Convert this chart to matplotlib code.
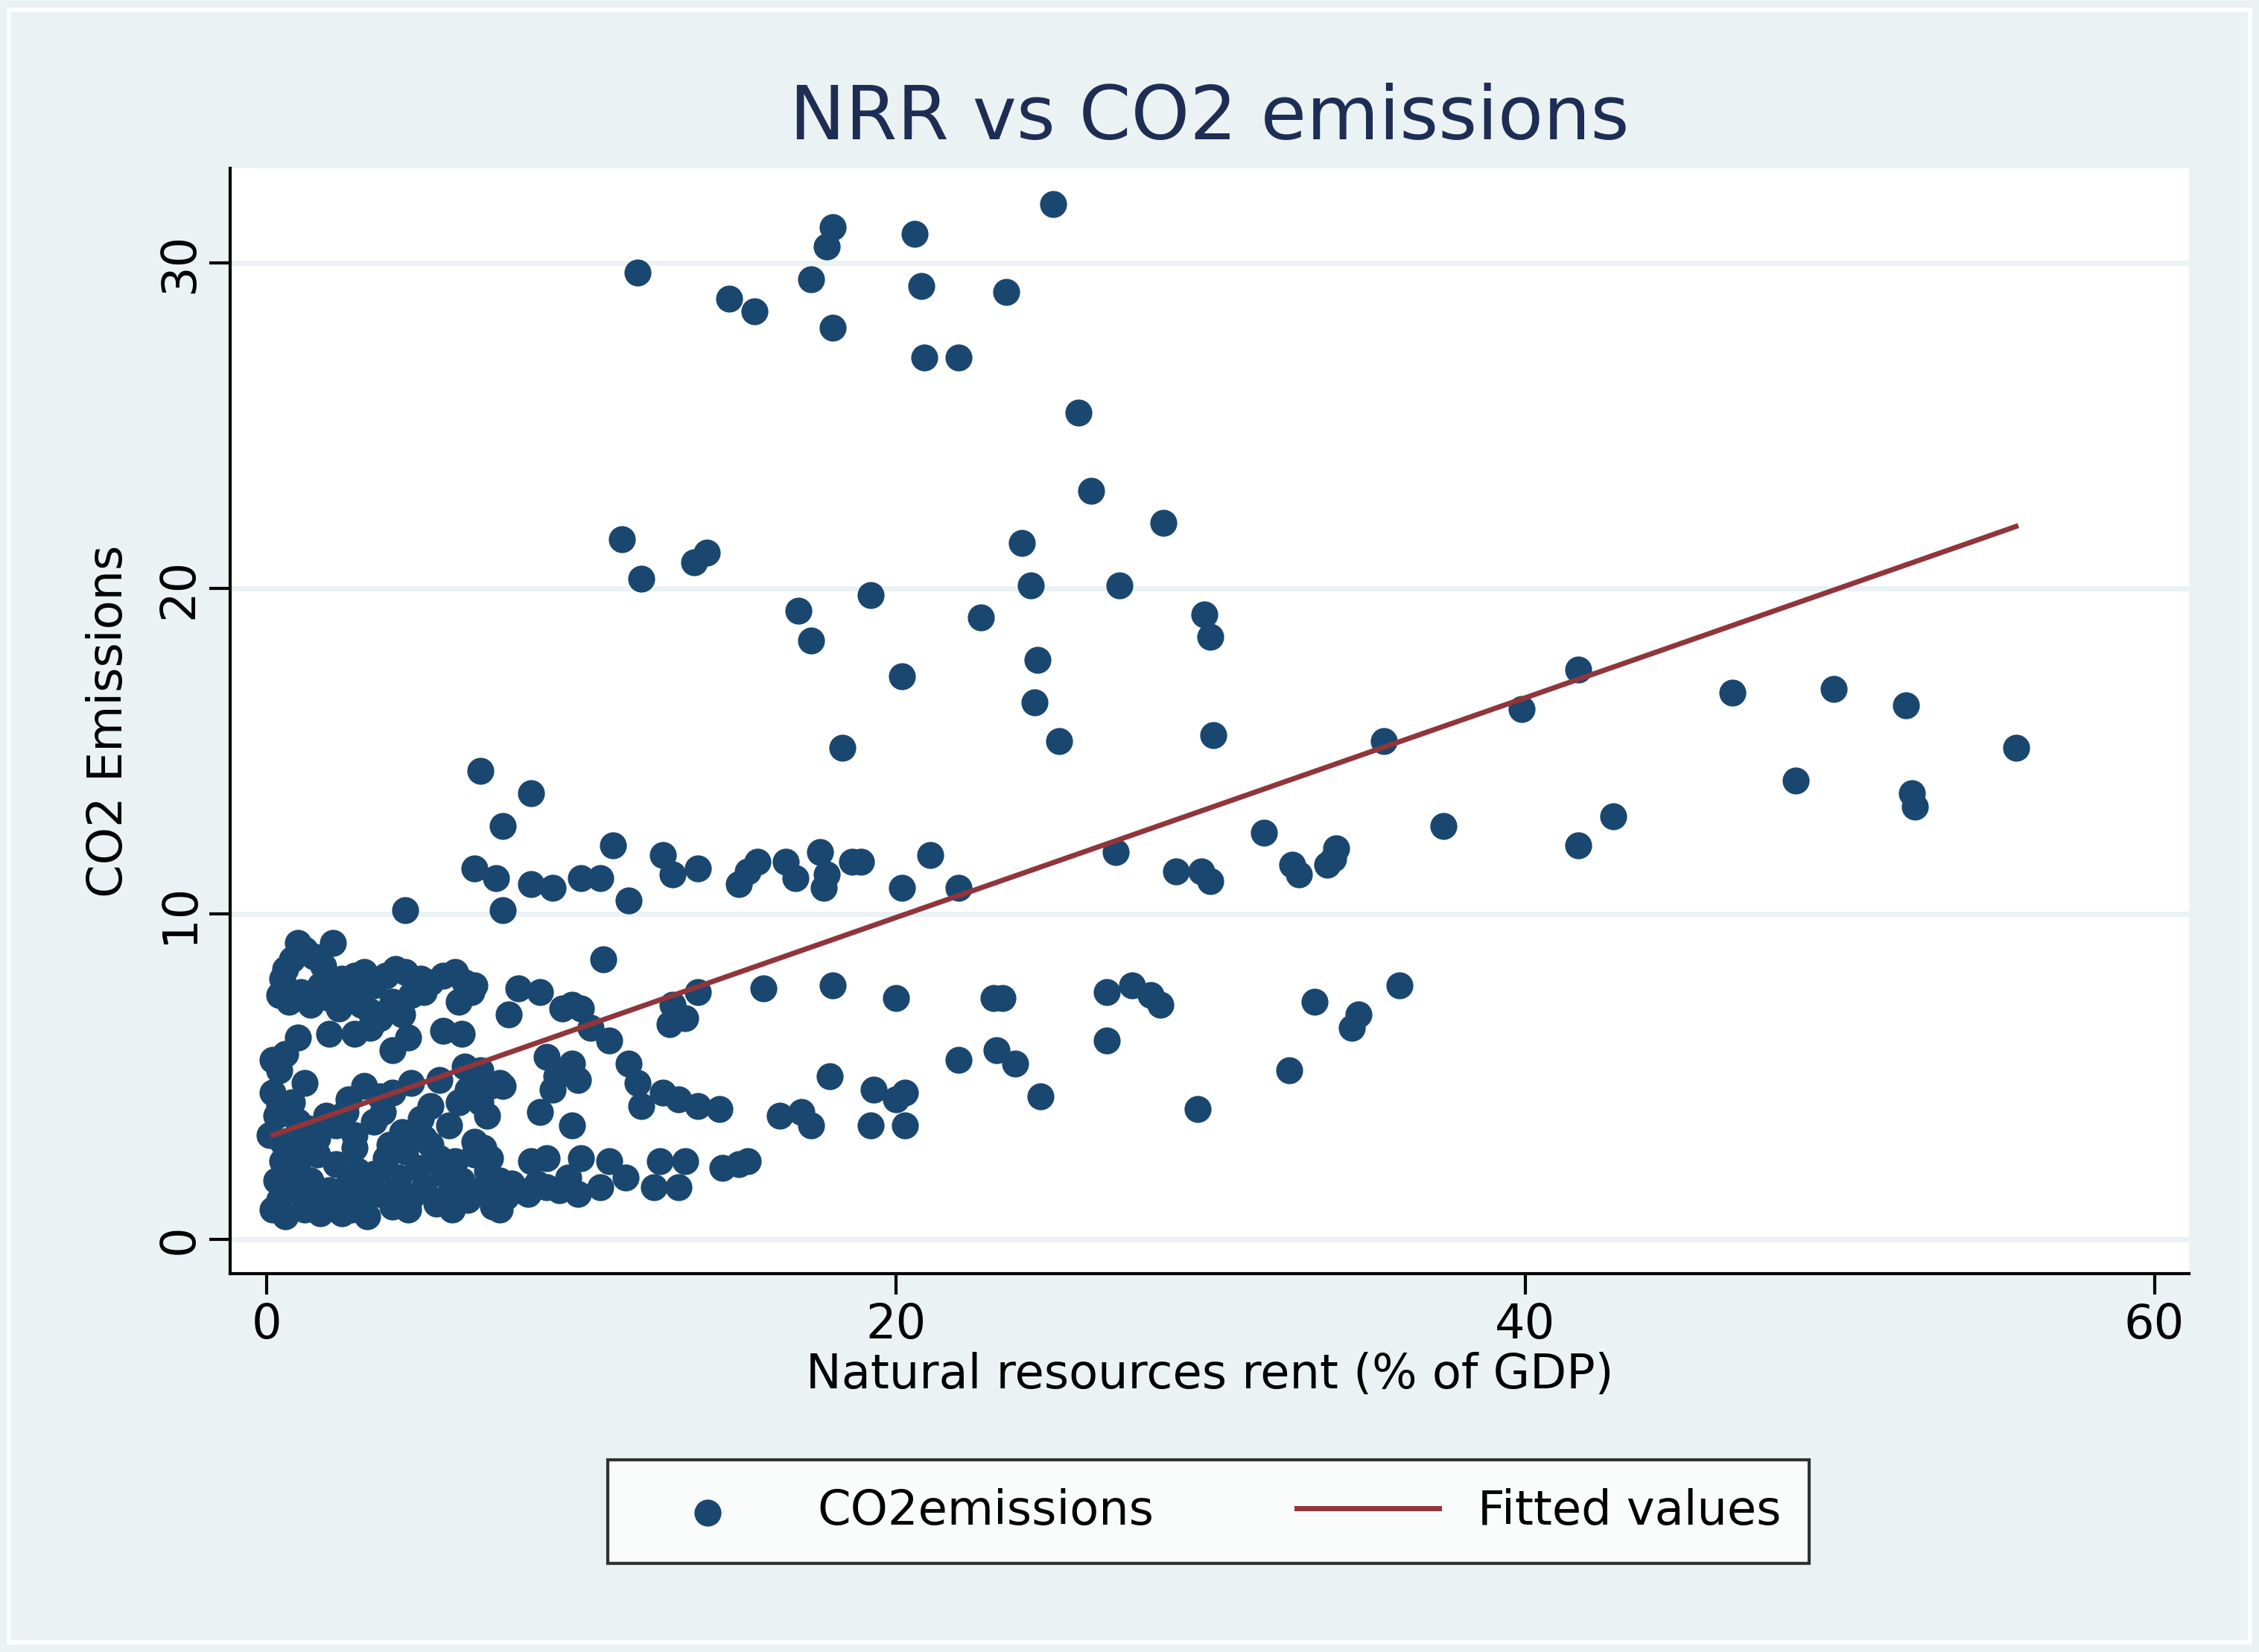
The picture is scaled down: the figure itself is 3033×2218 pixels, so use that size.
import matplotlib
matplotlib.use("Agg")
import matplotlib.pyplot as plt
import numpy as np
from matplotlib.patches import Rectangle

outer_x = [11.8,14.7,15.5,17.3,17.8,18.0,18.0,20.6,20.8,20.9,22.0,23.5,25.0,25.8,26.2,28.5,11.3,11.9,13.6,14.0,16.9,17.3,19.2,20.2,22.7,24.0,24.3,24.5,24.4,25.2,27.1,29.8,30.0,30.1,18.3,35.5,39.9,41.7,46.6,49.8,52.1,55.6,48.6,52.3,52.4,41.7,42.8,37.4,31.7,32.6,32.8,33.7,33.9,34.0,28.9,29.7,30.0,27.0,22.0,20.2,21.1,18.9,18.6,17.6,17.8,17.7,16.8,16.5,15.6,15.3,15.0,13.7,12.6,12.9,11.5,11.0,10.6,10.0,9.1,8.4,8.4,7.5,6.8,7.3,7.5,6.6,4.4,10.7]
outer_y = [29.7,28.9,28.5,29.5,30.5,31.1,28.0,30.9,29.3,27.1,27.1,29.1,31.8,25.4,23.0,22.0,21.5,20.3,20.8,21.1,19.3,18.4,19.8,17.3,19.1,21.4,20.1,17.8,16.5,15.3,20.1,19.2,18.5,15.5,15.1,15.3,16.3,17.5,16.8,16.9,16.4,15.1,14.1,13.7,13.3,12.1,13.0,12.7,12.5,11.5,11.2,11.5,11.7,12.0,11.3,11.3,11.0,11.9,10.8,10.8,11.8,11.6,11.6,11.9,11.2,10.8,11.1,11.6,11.6,11.3,10.9,11.4,11.8,11.2,10.4,12.1,11.1,11.1,10.8,10.9,13.7,12.7,14.4,11.1,10.1,11.4,10.1,8.6]

mid_x = [13.7,12.9,13.3,12.8,15.8,18.0,20.0,23.1,23.4,26.7,27.5,28.1,28.4,33.3,34.7,34.5,36.0,26.7,23.2,23.8,22.0,24.6,32.5,29.6,20.3,20.0,19.3,19.2,20.3,17.9,17.0,16.3,17.3,14.4,13.7,13.1,12.6,11.9,11.8,11.5,10.9,10.3,10.0,9.7,9.4,8.7,8.0,7.7,7.4,8.9,9.1,9.7,9.9,8.7,9.7,9.2,14.5,15.0,15.3,13.3,12.5,13.1,12.3,11.4,10.9,10.6,9.9,10.0,8.9,8.4]
mid_y = [7.6,7.2,6.8,6.6,7.7,7.8,7.4,7.4,7.4,7.6,7.8,7.5,7.2,7.3,6.9,6.5,7.8,6.1,5.8,5.4,5.5,4.4,5.2,4.0,4.5,4.3,4.6,3.5,3.5,5.0,3.9,3.8,3.5,4.0,4.1,4.3,4.5,4.1,4.8,5.4,6.1,6.5,7.1,7.2,7.1,7.6,7.7,6.9,4.8,5.6,4.6,5.4,4.9,3.9,3.5,5.0,2.2,2.3,2.4,2.4,2.4,1.6,1.6,1.9,2.4,1.6,1.4,2.5,2.5,2.4]

cluster_x = [0.5,0.6,0.8,1.0,1.2,1.5,1.8,2.1,2.4,2.8,3.1,3.4,3.8,4.1,4.4,4.9,5.2,5.6,6.0,6.3,6.6,0.4,0.7,1.1,1.4,1.7,2.0,2.3,2.7,3.0,3.3,3.6,4.0,4.3,4.6,5.0,6.1,6.5,
             1.0,2.0,2.8,3.3,4.0,4.5,5.6,6.2,0.2,0.4,0.6,6.3,6.8,7.1,7.5,
             0.1,0.2,0.3,0.4,0.5,0.8,1.0,1.3,1.6,1.9,2.2,2.5,2.8,3.1,3.4,3.7,4.0,4.3,4.6,4.9,5.2,5.5,5.8,6.1,6.4,6.8,7.0,2.6,1.2,3.6,5.0,6.6,
             0.2,0.4,0.6,0.8,1.0,1.2,1.4,1.6,1.8,2.0,2.2,2.4,2.6,2.8,3.0,3.2,3.4,3.6,3.8,4.0,4.2,4.4,4.6,4.8,5.0,5.2,5.4,5.6,5.8,6.0,6.2,6.4,6.6,6.8,7.0,7.2,7.4,7.6,7.8,8.0,8.3,8.6,8.9,9.3,9.6,7.4,0.5,0.9,1.5,2.3,3.3,4.5,5.5,6.9,7.1,1.1,3.9,2.9,0.3,1.7,2.7,4.1,5.9]
cluster_y = [8.0,8.3,8.6,9.1,8.9,8.7,8.4,9.1,8.0,8.1,8.2,7.8,8.1,8.3,8.2,8.0,7.9,8.1,8.2,7.9,7.8,7.5,7.3,7.6,7.2,7.8,7.4,7.1,7.5,7.2,7.0,6.8,7.3,6.9,7.5,7.6,7.3,7.6,
             6.2,6.3,6.3,6.5,5.8,6.2,6.4,6.3,5.5,5.2,5.7,5.3,5.2,4.7,4.7,
             3.2,4.5,3.8,4.1,3.0,4.2,3.6,3.4,3.1,3.8,3.5,3.9,3.2,4.7,3.6,3.9,4.5,3.3,4.8,3.7,4.1,4.9,3.5,4.2,4.6,4.2,3.8,4.3,4.8,4.4,3.1,3.0,
             0.9,1.2,0.7,1.5,2.1,0.9,1.8,2.6,1.1,1.5,2.3,0.8,1.7,2.8,1.2,0.7,2.0,1.4,2.5,1.0,1.9,2.7,1.3,2.2,1.6,2.9,1.1,2.0,1.4,2.4,1.8,1.2,2.6,1.5,2.1,1.0,1.8,1.3,1.7,1.5,1.4,1.7,1.6,1.5,1.9,0.9,2.4,2.9,1.4,1.2,1.6,0.9,2.5,2.8,2.5,2.6,2.9,2.1,1.8,0.8,0.9,1.5,0.9]

x = np.array(outer_x + mid_x + cluster_x)
y = np.array(outer_y + mid_y + cluster_y)

fit_x = [0.2, 55.6]
fit_y = [3.2, 21.9]

BG = "#EAF2F3"
DOT = "#1A476F"
LINE = "#90353B"
TXT = "#1E2D53"

fig = plt.figure(figsize=(15.165, 11.09), dpi=200, facecolor=BG)
ax = fig.add_axes([0.102, 0.229, 0.867, 0.669])
ax.set_facecolor("white")
ax.scatter(x, y, s=170, color=DOT, zorder=3, linewidths=0)
ax.plot(fit_x, fit_y, color=LINE, lw=2.5, zorder=4)
ax.set_xlim(-1.15, 61.1)
ax.set_ylim(-1.06, 32.9)
ax.set_xticks([0, 20, 40, 60])
ax.set_yticks([0, 10, 20, 30])
ax.set_yticklabels(["0", "10", "20", "30"], rotation=90, va="center")
ax.tick_params(labelsize=23, length=10, width=1.5, colors="black")
ax.grid(axis="y", color=BG, lw=2.5, zorder=0)
for s in ["top", "right"]:
    ax.spines[s].set_visible(False)
for s in ["left", "bottom"]:
    ax.spines[s].set_linewidth(1.5)
ax.set_xlabel("Natural resources rent (% of GDP)", fontsize=23, labelpad=2)
ax.set_ylabel("CO2 Emissions", fontsize=23, labelpad=12)
ax.set_title("NRR vs CO2 emissions", fontsize=36, color=TXT, pad=14)

h1 = ax.scatter([], [], s=170, color=DOT, linewidths=0)
h2, = ax.plot([], [], color=LINE, lw=2.5)
leg = fig.legend([h1, h2], ["CO2emissions", "Fitted values"], loc="center",
                 bbox_to_anchor=(0.535, 0.085), ncol=2, fontsize=23,
                 frameon=True, fancybox=False, edgecolor="black",
                 facecolor="white", columnspacing=3.0, handlelength=3.0,
                 borderpad=0.6)
leg.get_frame().set_linewidth(1.5)
fig.add_artist(Rectangle((0.004, 0.006), 0.992, 0.988, transform=fig.transFigure,
                         fill=False, edgecolor="white", lw=2))
fig.savefig("out.png", dpi=200, facecolor=BG)
